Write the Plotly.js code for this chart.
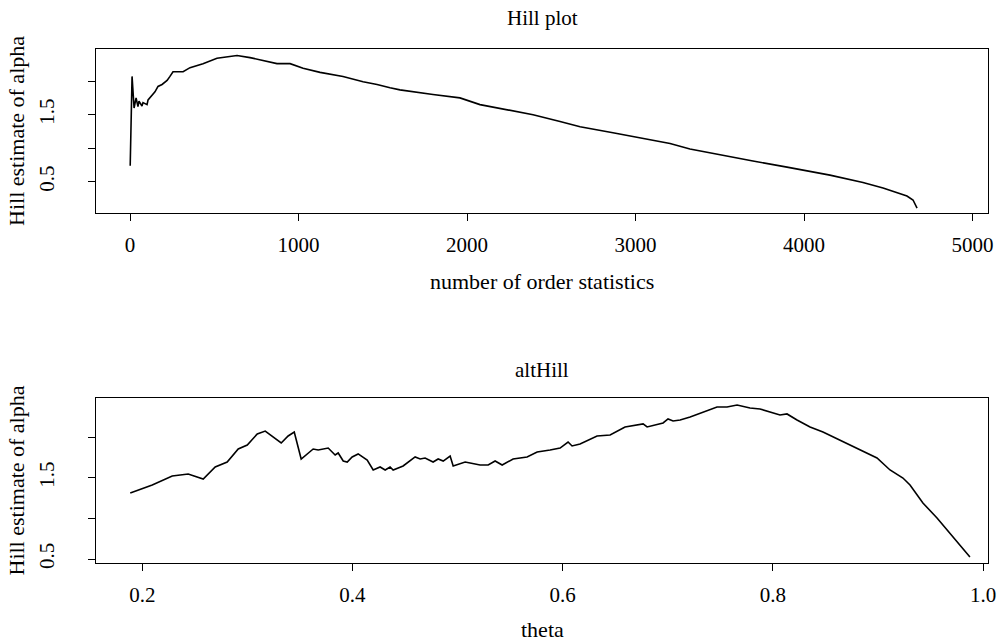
<!DOCTYPE html>
<html><head><meta charset="utf-8">
<script src="https://cdn.plot.ly/plotly-3.0.1.min.js"></script>
<style>html,body{margin:0;padding:0;background:#fff}#chart{width:1008px;height:642px}</style>
</head><body><div id="chart"></div>
<script>
// Top panel: Hill plot
const hillK = [1, 3, 6, 12, 24, 30, 36, 47, 53, 71, 77, 101, 107, 148, 166, 190, 220, 237, 255, 297, 315, 356, 433, 516, 593, 635, 712, 789, 872, 950, 1027, 1128, 1264, 1383, 1466, 1543, 1602, 1798, 1958, 2077, 2273, 2392, 2552, 2671, 2866, 3068, 3205, 3323, 3501, 3697, 3899, 4154, 4350, 4469, 4611, 4647, 4671];
const hillAlpha = [0.74, 1.05, 0.98, 2.07, 1.60, 1.70, 1.75, 1.62, 1.70, 1.63, 1.68, 1.65, 1.72, 1.84, 1.92, 1.95, 2.01, 2.07, 2.14, 2.14, 2.14, 2.20, 2.26, 2.34, 2.37, 2.38, 2.35, 2.31, 2.26, 2.26, 2.19, 2.13, 2.07, 1.99, 1.95, 1.90, 1.87, 1.80, 1.75, 1.65, 1.55, 1.50, 1.40, 1.32, 1.23, 1.13, 1.07, 0.99, 0.90, 0.81, 0.72, 0.60, 0.49, 0.41, 0.29, 0.23, 0.11];

// Bottom panel: altHill
const theta = [0.1886, 0.2095, 0.2285, 0.2437, 0.2580, 0.2694, 0.2808, 0.2913, 0.2999, 0.3094, 0.3170, 0.3322, 0.3388, 0.3446, 0.3512, 0.3626, 0.3674, 0.3769, 0.3835, 0.3864, 0.3912, 0.3950, 0.3997, 0.4054, 0.4140, 0.4197, 0.4263, 0.4311, 0.4358, 0.4387, 0.4482, 0.4596, 0.4644, 0.4691, 0.4767, 0.4815, 0.4863, 0.4929, 0.4958, 0.5072, 0.5119, 0.5214, 0.5291, 0.5357, 0.5424, 0.5528, 0.5661, 0.5757, 0.5880, 0.5975, 0.6051, 0.6089, 0.6165, 0.6327, 0.6451, 0.6593, 0.6765, 0.6803, 0.6955, 0.7002, 0.7050, 0.7117, 0.7212, 0.7335, 0.7468, 0.7563, 0.7659, 0.7782, 0.7877, 0.8067, 0.8134, 0.8229, 0.8353, 0.8476, 0.8610, 0.8733, 0.8923, 0.8990, 0.9114, 0.9237, 0.9304, 0.9427, 0.9561, 0.9684, 0.9779, 0.9874];
const altAlpha = [1.312, 1.410, 1.521, 1.546, 1.484, 1.632, 1.693, 1.853, 1.902, 2.038, 2.074, 1.927, 2.013, 2.062, 1.730, 1.853, 1.841, 1.865, 1.779, 1.804, 1.705, 1.693, 1.755, 1.792, 1.718, 1.595, 1.632, 1.595, 1.632, 1.595, 1.644, 1.755, 1.730, 1.742, 1.693, 1.730, 1.705, 1.767, 1.644, 1.693, 1.681, 1.656, 1.656, 1.705, 1.656, 1.730, 1.755, 1.816, 1.841, 1.865, 1.939, 1.890, 1.915, 2.013, 2.025, 2.124, 2.161, 2.124, 2.173, 2.222, 2.197, 2.210, 2.247, 2.308, 2.370, 2.370, 2.394, 2.357, 2.345, 2.271, 2.284, 2.210, 2.124, 2.062, 1.976, 1.902, 1.779, 1.742, 1.595, 1.496, 1.410, 1.189, 1.004, 0.820, 0.672, 0.525];

const topXTicks = [0, 1000, 2000, 3000, 4000, 5000];
const botXTicks = [0.2, 0.4, 0.6, 0.8, 1.0];
const botXText = ['0.2', '0.4', '0.6', '0.8', '1.0'];
const yTicks = [0.5, 1.0, 1.5, 2.0];
const yTickText = ['0.5', '', '1.5', ''];

const FONT = 'Liberation Serif, Times New Roman, serif';
const FS = 21;
const FL = 22;
const axisBase = {
  showline: true, mirror: true, linecolor: '#000', linewidth: 1,
  ticks: 'outside', ticklen: 7, tickcolor: '#000', tickwidth: 1,
  showgrid: false, zeroline: false, tickfont: {family: FONT, size: FS, color: '#000'},
  fixedrange: true
};
const xBase = Object.assign({}, axisBase, {ticklabelstandoff: 6});
const yBase = Object.assign({}, axisBase, {ticklabelstandoff: 26, tickangle: -90});

const traces = [
  {x: hillK, y: hillAlpha, type: 'scatter', mode: 'lines', line: {color: '#000', width: 1.6}, xaxis: 'x', yaxis: 'y', hoverinfo: 'skip'},
  {x: theta, y: altAlpha, type: 'scatter', mode: 'lines', line: {color: '#000', width: 1.6}, xaxis: 'x2', yaxis: 'y2', hoverinfo: 'skip'}
];

function ann(text, size, y, yshift, xshift, angle) {
  return {text: text, xref: 'paper', yref: 'paper', x: angle ? 0 : 0.5, y: y, xshift: xshift || 0, yshift: yshift || 0,
    xanchor: 'center', yanchor: 'middle', textangle: angle || 0, showarrow: false, font: {family: FONT, size: size, color: '#000'}};
}

const layout = {
  width: 1008, height: 642, showlegend: false,
  paper_bgcolor: '#fff', plot_bgcolor: '#fff',
  margin: {l: 96, r: 20, t: 49, b: 79},
  font: {family: FONT, size: FS, color: '#000'},
  xaxis: Object.assign({}, xBase, {domain: [0, 1], anchor: 'y', range: [-202, 5092], tickvals: topXTicks, ticktext: topXTicks.map(String)}),
  yaxis: Object.assign({}, yBase, {domain: [0.681, 1], anchor: 'x', range: [0.037, 2.478], tickvals: yTicks, ticktext: yTickText}),
  xaxis2: Object.assign({}, xBase, {domain: [0, 1], anchor: 'y2', range: [0.156, 1.0046], tickvals: botXTicks, ticktext: botXText}),
  yaxis2: Object.assign({}, yBase, {domain: [0, 0.321], anchor: 'x2', range: [0.451, 2.48], tickvals: yTicks, ticktext: yTickText}),
  annotations: [
    ann('Hill plot', FS, 1, 31),
    ann('number of order statistics', FL, 0.681, -69),
    ann('Hill estimate of alpha', FL, 0.8405, 0, -79, -90),
    ann('altHill', FS, 0.321, 28),
    ann('theta', FL, 0, -66),
    ann('Hill estimate of alpha', FL, 0.1605, 0, -79, -90)
  ]
};

Plotly.newPlot('chart', traces, layout, {staticPlot: true, displayModeBar: false});
</script></body></html>
